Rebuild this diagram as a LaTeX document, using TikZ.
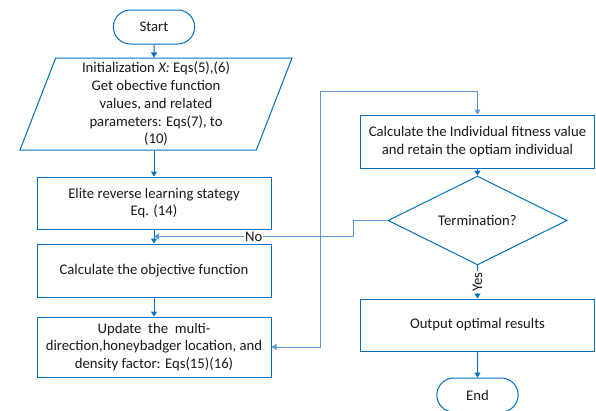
\documentclass[tikz,border=0pt]{standalone}
\usepackage{fontspec}
\setmainfont{Carlito}
\usetikzlibrary{shapes.geometric,shapes.misc,arrows.meta,calc}

\definecolor{flowblue}{RGB}{0,112,192}
\definecolor{loopblue}{RGB}{91,155,213}
\definecolor{txt}{RGB}{25,25,25}

\begin{document}
\begin{tikzpicture}[
	x = 1pt, y = -1pt,
	every node/.style = {font = \fontsize{14.7}{17.8}\selectfont, text = txt, align = center},
	terminal/.style = {draw = flowblue, line width = 1pt, rounded rectangle, minimum width = 88pt, minimum height = 34pt},
	io/.style = {draw = flowblue, line width = 1pt, trapezium, trapezium left angle = 67, trapezium right angle = 113,
		trapezium stretches body, minimum width = 272pt, minimum height = 92pt, inner sep = 0pt},
	process/.style = {draw = flowblue, line width = 1pt, rectangle, minimum width = 234pt, minimum height = 53pt, inner sep = 2pt},
	decision/.style = {draw = flowblue, line width = 1pt, diamond, minimum width = 179pt, minimum height = 69pt, inner sep = 0pt},
	line/.style = {draw = flowblue, line width = 1pt, -{Triangle[width = 6pt, length = 5pt]}},
	loopline/.style = {draw = loopblue, line width = 1pt},
	tip/.style = {{Triangle[width = 6pt, length = 5pt]}-{Triangle[width = 6pt, length = 5pt]}}
	]
	\useasboundingbox (0,0) rectangle (596,410);

	% left column
	\node[terminal] (start) at (154,27) {Start};
	\node[io] (init) at (156,104) {Initialization \textit{X:} Eqs(5),(6)\\Get obective function\\values, and related\\parameters: Eqs(7), to\\(10)};
	\node[process, minimum height = 52pt] (elite) at (154,203) {Elite reverse learning stategy\\Eq. (14)};
	\node[process] (objfun) at (154,270.5) {Calculate the objective function};
	\node[process, minimum height = 60pt] (update) at (154,347) {Update~ the~ multi-\\direction,honeybadger location, and\\density factor: Eqs(15)(16)};

	% right column
	\node[process] (fitness) at (477.5,141.5) {Calculate the Individual fitness value\\and retain the optiam individual};
	\node[decision] (term) at (477.5,220.5) {Termination?};
	\node[process, minimum height = 52pt] (output) at (477.5,325) {Output optimal results};
	\node[terminal] (end) at (477.5,395) {End};

	\coordinate (join) at ($(elite.south)!0.5!(objfun.north)$);
	\coordinate (bend) at (320,91);

	\draw[line] (start) -- (start |- init.north);
	\draw[line] (elite.north |- init.south) -- (elite);
	\draw[line] (elite) -- (objfun);
	\draw[line] (objfun) -- (update);
	\draw[loopline, tip] (update.east) -| (bend) -| (fitness.north);
	\draw[line] (fitness) -- (term);
	\draw[loopline, -{Triangle[width = 6pt, length = 5pt]}] (term.west) -- ++(-34,0) |- (join)
		node[pos = 0.75, fill = white, inner sep = 1pt] {No};
	\draw[line] (term) -- (output) node[midway, rotate = 90, fill = white, inner sep = 1pt] {Yes};
	\draw[line] (output) -- (end);
\end{tikzpicture}
\end{document}
